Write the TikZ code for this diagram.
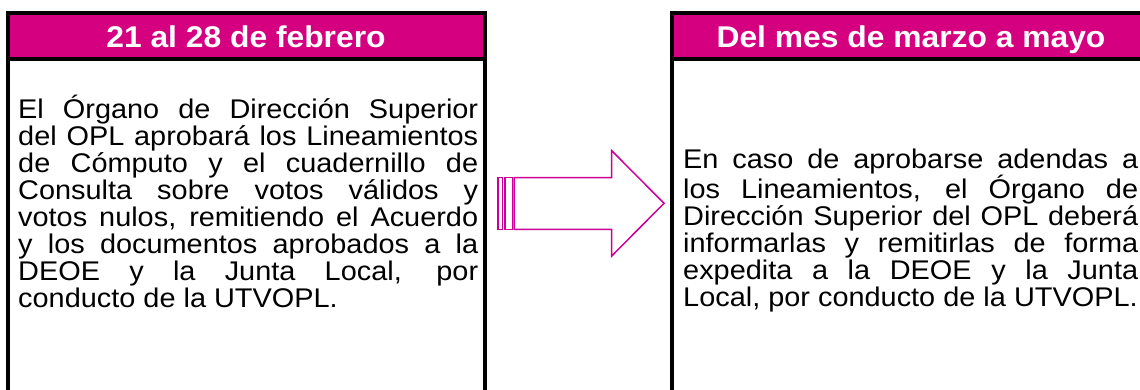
\documentclass[tikz,border=0pt]{standalone}
\usepackage{fontspec}
\setmainfont{Liberation Sans}
\newfontfamily\bodyfont[FakeStretch=1.07]{Liberation Sans}
\newfontfamily\headfont[FakeStretch=1.06]{Liberation Sans}
\hyphenpenalty=10000
\tolerance=10000
\definecolor{headpink}{RGB}{213,0,127}
\definecolor{arrowpink}{RGB}{204,0,153}
\tikzset{
    panel/.style={line width=4pt, draw=black},
    headtext/.style={text=white, anchor=base, inner sep=0pt,
        font=\headfont\bfseries\fontsize{30}{34}\selectfont},
    bodytext/.style={anchor=north west, inner sep=0pt, text width=#1,
        align=justify, font=\bodyfont\fontsize{27}{27}\selectfont},
}
\begin{document}
\begin{tikzpicture}[x=1pt, y=-1pt]
        \useasboundingbox (0,0) rectangle (1140,389);
        \clip (0,0) rectangle (1140,389);
        \coordinate (L) at (8,13);
        \coordinate (R) at (672,13);
        % left panel
        \fill[headpink] (L) rectangle (485,58.5);
        \draw[panel] (L) rectangle (485,430);
        \draw[panel] (8,58.5) -- (485,58.5);
        % right panel
        \fill[headpink] (R) rectangle (1149,58.5);
        \draw[panel] (R) rectangle (1149,430);
        \draw[panel] (672,58.5) -- (1149,58.5);
        \node[headtext] (hl) at (246,47) {21 al 28 de febrero};
        \node[headtext] (hr) at (911,47) {Del mes de marzo a mayo};
        \node[bodytext=460pt] (tl) at (18,95) {El Órgano de Dirección Superior\linebreak
            del OPL aprobará los Lineamientos\linebreak
            de Cómputo y el cuadernillo de\linebreak
            Consulta sobre votos válidos y\linebreak
            votos nulos, remitiendo el Acuerdo\linebreak
            y los documentos aprobados a la\linebreak
            DEOE y la Junta Local, por\linebreak
            conducto de la UTVOPL.};
        \node[bodytext=455pt] (tr) at (683,149) {En caso de aprobarse adendas a\linebreak
            los Lineamientos, el Órgano de\linebreak
            Dirección Superior del OPL deberá\linebreak
            informarlas y remitirlas de forma\linebreak
            expedita a la DEOE y la Junta\linebreak
            Local, por conducto de la UTVOPL.};
        % arrow
        \begin{scope}[draw=arrowpink, line width=1.5pt]
            \draw (514,177.7) -- (611.7,177.7) -- (611.7,150.7) -- (664,203.3)
                -- (611.7,256) -- (611.7,229.3) -- (514,229.3) -- cycle;
            \draw (498,177.7) rectangle (502.7,229.3);
            \draw (505,177.7) rectangle (512.3,229.3);
        \end{scope}
    \end{tikzpicture}
\end{document}
